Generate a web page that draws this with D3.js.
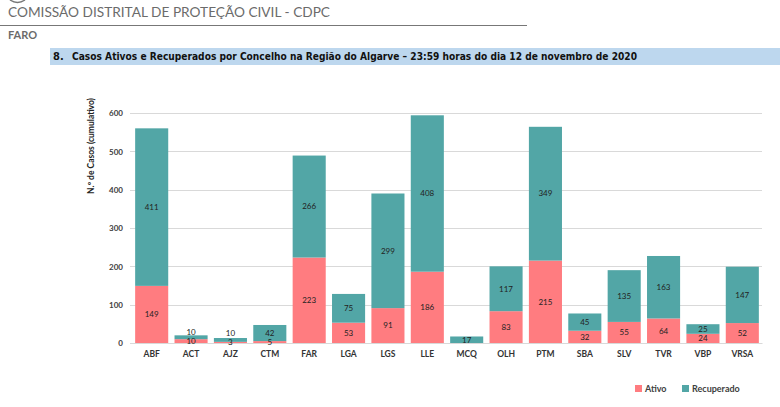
<!DOCTYPE html>
<html>
<head>
<meta charset="utf-8">
<script src="https://cdn.jsdelivr.net/npm/d3@7"></script>
<style>
  body { margin: 0; background: #fff; }
  svg { display: block; }
  .grid-line { stroke: #d9d9d9; stroke-width: 1; }
  .lbl { font-family: Lato, "Open Sans", sans-serif; font-size: 8px; fill: #222; }
</style>
</head>
<body>
<svg width="780" height="407"></svg>
<script>
// dados: casos por concelho
const concelhos = ["ABF", "ACT", "AJZ", "CTM", "FAR", "LGA", "LGS", "LLE", "MCQ", "OLH", "PTM", "SBA", "SLV", "TVR", "VBP", "VRSA"];
const ativos = [149, 10, 3, 5, 223, 53, 91, 186, 0, 83, 215, 32, 55, 64, 24, 52];
const recuperados = [411, 10, 10, 42, 266, 75, 299, 408, 17, 117, 349, 45, 135, 163, 25, 147];
const yTicks = [0, 100, 200, 300, 400, 500, 600];

const corAtivo = "#ff7c80";
const corRecup = "#52a6a6";

const svg = d3.select("svg");

// cabeçalho do documento (logótipo cortado no topo)
svg.append("path")
    .attr("d", "M10,0 Q17.5,5 25,0")
    .attr("fill", "none").attr("stroke", "#777").attr("stroke-width", 1.5);
svg.append("text")
    .attr("x", 8).attr("y", 17)
    .style("font-family", "Lato, 'Open Sans', sans-serif")
    .style("font-size", "13px").style("fill", "#6b6b6b")
    .attr("textLength", 322).attr("lengthAdjust", "spacingAndGlyphs")
    .text("COMISSÃO DISTRITAL DE PROTEÇÃO CIVIL - CDPC");
svg.append("line")
    .attr("x1", 0).attr("x2", 527).attr("y1", 25.5).attr("y2", 25.5)
    .attr("stroke", "#777").attr("stroke-width", 1);
svg.append("text")
    .attr("x", 8).attr("y", 39)
    .style("font-family", "Lato, 'Open Sans', sans-serif")
    .style("font-size", "11px").style("font-weight", "bold").style("fill", "#6b6b6b")
    .text("FARO");

// faixa do título
svg.append("rect")
    .attr("x", 50).attr("y", 48).attr("width", 730).attr("height", 17)
    .attr("fill", "#bdd7ee");
svg.append("text")
    .attr("x", 53).attr("y", 60)
    .style("font-family", "'Liberation Sans Narrow', 'DejaVu Sans Condensed', sans-serif")
    .style("font-size", "11px").style("font-weight", "bold").style("fill", "#111")
    .text("8.");
svg.append("text")
    .attr("x", 72).attr("y", 60)
    .style("font-family", "'Liberation Sans Narrow', 'DejaVu Sans Condensed', sans-serif")
    .style("font-size", "11px").style("font-weight", "bold").style("fill", "#111")
    .attr("textLength", 565).attr("lengthAdjust", "spacingAndGlyphs")
    .text("Casos Ativos e Recuperados por Concelho na Região do Algarve – 23:59 horas do dia 12 de novembro de 2020");

// área do gráfico
const x0 = 132, x1 = 762, yTop = 113, yBase = 343;

const scaleX = d3.scaleBand()
    .domain(concelhos)
    .range([x0, x1])
    .paddingInner(0.16)
    .paddingOuter(0.08);
const scaleY = d3.scaleLinear()
    .domain([0, 600])
    .range([yBase, yTop]);

// grelha horizontal
svg.append("g")
    .selectAll("line")
    .data(yTicks)
    .join("line")
    .classed("grid-line", true)
    .attr("x1", 130).attr("x2", x1)
    .attr("y1", d => Math.round(scaleY(d)) + 0.5)
    .attr("y2", d => Math.round(scaleY(d)) + 0.5);

// eixo Y
const axisY = d3.axisLeft(scaleY).tickValues(yTicks).tickSize(0).tickPadding(0);
const gy = svg.append("g")
    .attr("transform", `translate(123, 0)`)
    .call(axisY);
gy.select(".domain").remove();
gy.selectAll("text")
    .attr("dy", "0.35em")
    .style("font-family", "Lato, 'Open Sans', sans-serif")
    .style("font-size", "8px").style("font-weight", "bold").style("fill", "#404040");

// eixo X
const axisX = d3.axisBottom(scaleX).tickSize(0).tickPadding(8);
const gx = svg.append("g")
    .attr("transform", `translate(0, ${yBase})`)
    .call(axisX);
gx.select(".domain").attr("stroke", "#d9d9d9");
gx.selectAll("text")
    .style("font-family", "Lato, 'Open Sans', sans-serif")
    .style("font-size", "8.5px").style("font-weight", "bold").style("fill", "#333");

// título do eixo Y
svg.append("text")
    .attr("transform", "translate(94, 146) rotate(-90)")
    .attr("text-anchor", "middle")
    .style("font-family", "Lato, 'Open Sans', sans-serif")
    .style("font-size", "8.5px").style("font-weight", "bold").style("fill", "#222")
    .text("N.º de Casos (cumulativo)");

// barras empilhadas
const dados = concelhos.map((c, i) => ({ c: c, a: ativos[i], r: recuperados[i] }));

svg.append("g").selectAll("rect")
    .data(dados)
    .join("rect")
    .attr("x", d => scaleX(d.c))
    .attr("width", scaleX.bandwidth())
    .attr("y", d => scaleY(d.a))
    .attr("height", d => yBase - scaleY(d.a))
    .attr("fill", corAtivo);

svg.append("g").selectAll("rect")
    .data(dados)
    .join("rect")
    .attr("x", d => scaleX(d.c))
    .attr("width", scaleX.bandwidth())
    .attr("y", d => scaleY(d.a + d.r))
    .attr("height", d => scaleY(d.a) - scaleY(d.a + d.r))
    .attr("fill", corRecup);

// rótulos de valores
const lblA = d => (scaleY(0) + scaleY(d.a)) / 2;
const lblR = d => {
    let y = (scaleY(d.a) + scaleY(d.a + d.r)) / 2;
    if (d.a > 0 && lblA(d) - y < 9) y = lblA(d) - 9;
    return y;
};

svg.append("g").selectAll("text")
    .data(dados.filter(d => d.a > 0))
    .join("text")
    .classed("lbl", true)
    .attr("x", d => scaleX(d.c) + scaleX.bandwidth() / 2)
    .attr("y", lblA)
    .attr("dy", "0.35em")
    .attr("text-anchor", "middle")
    .text(d => d.a);

svg.append("g").selectAll("text")
    .data(dados)
    .join("text")
    .classed("lbl", true)
    .attr("x", d => scaleX(d.c) + scaleX.bandwidth() / 2)
    .attr("y", lblR)
    .attr("dy", "0.35em")
    .attr("text-anchor", "middle")
    .text(d => d.r);

// legenda
const legenda = [
    { nome: "Ativo", cor: corAtivo, x: 635 },
    { nome: "Recuperado", cor: corRecup, x: 682 }
];
const gl = svg.append("g").selectAll("g")
    .data(legenda)
    .join("g")
    .attr("transform", d => `translate(${d.x}, 385)`);
gl.append("rect")
    .attr("width", 7).attr("height", 7)
    .attr("fill", d => d.cor);
gl.append("text")
    .attr("x", 10).attr("y", 3.5).attr("dy", "0.35em")
    .style("font-family", "Lato, 'Open Sans', sans-serif")
    .style("font-size", "9px").style("font-weight", "bold").style("fill", "#404040")
    .text(d => d.nome);
</script>
</body>
</html>
